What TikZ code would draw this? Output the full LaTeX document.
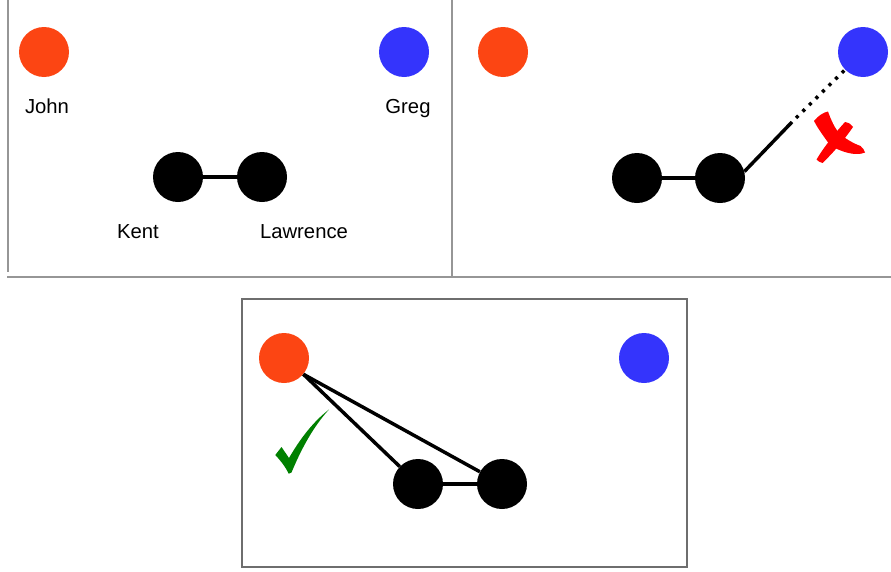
\documentclass[tikz,border=0pt]{standalone}
\usepackage{fontspec}
\setmainfont{Liberation Sans}
\definecolor{johnorange}{RGB}{252,69,19}
\definecolor{gregblue}{RGB}{52,52,252}
\definecolor{okgreen}{RGB}{0,128,0}
\definecolor{badred}{RGB}{255,0,0}
\definecolor{framegray}{RGB}{150,150,150}
\definecolor{boxgray}{RGB}{110,110,110}
\tikzset{
  person/.style={circle, minimum size=37.5pt, inner sep=0pt, draw=none},
  john/.style={person, fill=johnorange},
  greg/.style={person, fill=gregblue},
  pair/.style={person, fill=black},
  tie/.style={line width=2.6pt, black},
  nametext/.style={anchor=base, inner sep=0pt, font=\fontsize{15.2pt}{18pt}\selectfont},
  frame/.style={line width=1.1pt, framegray},
  boxframe/.style={line width=1pt, boxgray}
}
\begin{document}
\begin{tikzpicture}[x=0.75pt, y=-0.75pt]
\useasboundingbox (0,0) rectangle (891,571);

% panel frames
\draw[frame] (8,0) -- (8,272);
\draw[frame] (7,277) -- (891,277);
\draw[frame] (452,0) -- (452,277);
\draw[boxframe] (242,299) rectangle (687,567);

% first panel: the four people
\node[john] (J1) at (44,52) {};
\node[greg] (G1) at (404,52) {};
\node[pair] (K1) at (178,177) {};
\node[pair] (L1) at (262,177) {};
\draw[tie] (K1) -- (L1);
\node[nametext] (tJ) at (47,113.5) {John};
\node[nametext] (tG) at (408,113.5) {Greg};
\node[nametext] (tK) at (138,238.5) {Kent};
\node[nametext] (tL) at (304,238.5) {Lawrence};

% second panel: rejected link to Greg
\node[john] (J2) at (503,52) {};
\node[greg] (G2) at (863,52) {};
\node[pair] (K2) at (637,178) {};
\node[pair] (L2) at (720,178) {};
\draw[tie] (K2) -- (L2);
\coordinate (brkA) at (792,122);
\coordinate (brkB) at (796,118);
\draw[tie] (L2.15) -- (brkA);
\draw[line width=2.6pt, dash pattern=on 2.4pt off 4.5pt] (brkB) -- (G2);
% red cross: broad stroke from top left sweeping to the right
\fill[badred] (814,121)
  .. controls (818,116) and (823,112.5) .. (828,111.5)
  .. controls (831,120) and (835,129) .. (840,134)
  .. controls (847,140) and (855,144) .. (860.5,146)
  .. controls (862.5,147.5) and (864.5,150) .. (865,152.5)
  .. controls (857,156) and (846,153) .. (837,149)
  .. controls (832,147) and (829,144) .. (827,141)
  .. controls (822,134) and (817,127) .. (814,121) -- cycle;
% red cross: second stroke down to the bottom left
\fill[badred] (845,122)
  .. controls (848.5,122.5) and (851.5,124.5) .. (853,127)
  .. controls (844,140) and (834,152) .. (822.5,163)
  .. controls (820,162.5) and (818,161) .. (816.5,159.5)
  .. controls (824,147) and (835,133) .. (845,122) -- cycle;

% third panel: accepted links to John
\node[john] (J3) at (284,358) {};
\node[greg] (G3) at (644,358) {};
\node[pair] (K3) at (418,484) {};
\node[pair] (L3) at (502,484) {};
\draw[tie] (K3) -- (L3);
\draw[tie] (J3.-40) -- (K3);
\draw[tie] (J3.-40) -- (L3);
% green tick
\fill[okgreen] (329,409.5)
  .. controls (318,418) and (304,432) .. (289,458)
  -- (281.5,447)
  -- (275.3,455)
  .. controls (280,460) and (285,466) .. (288.7,473.7)
  -- (291.5,472.5)
  .. controls (300,452) and (312,428) .. (329,409.5) -- cycle;
\end{tikzpicture}
\end{document}
